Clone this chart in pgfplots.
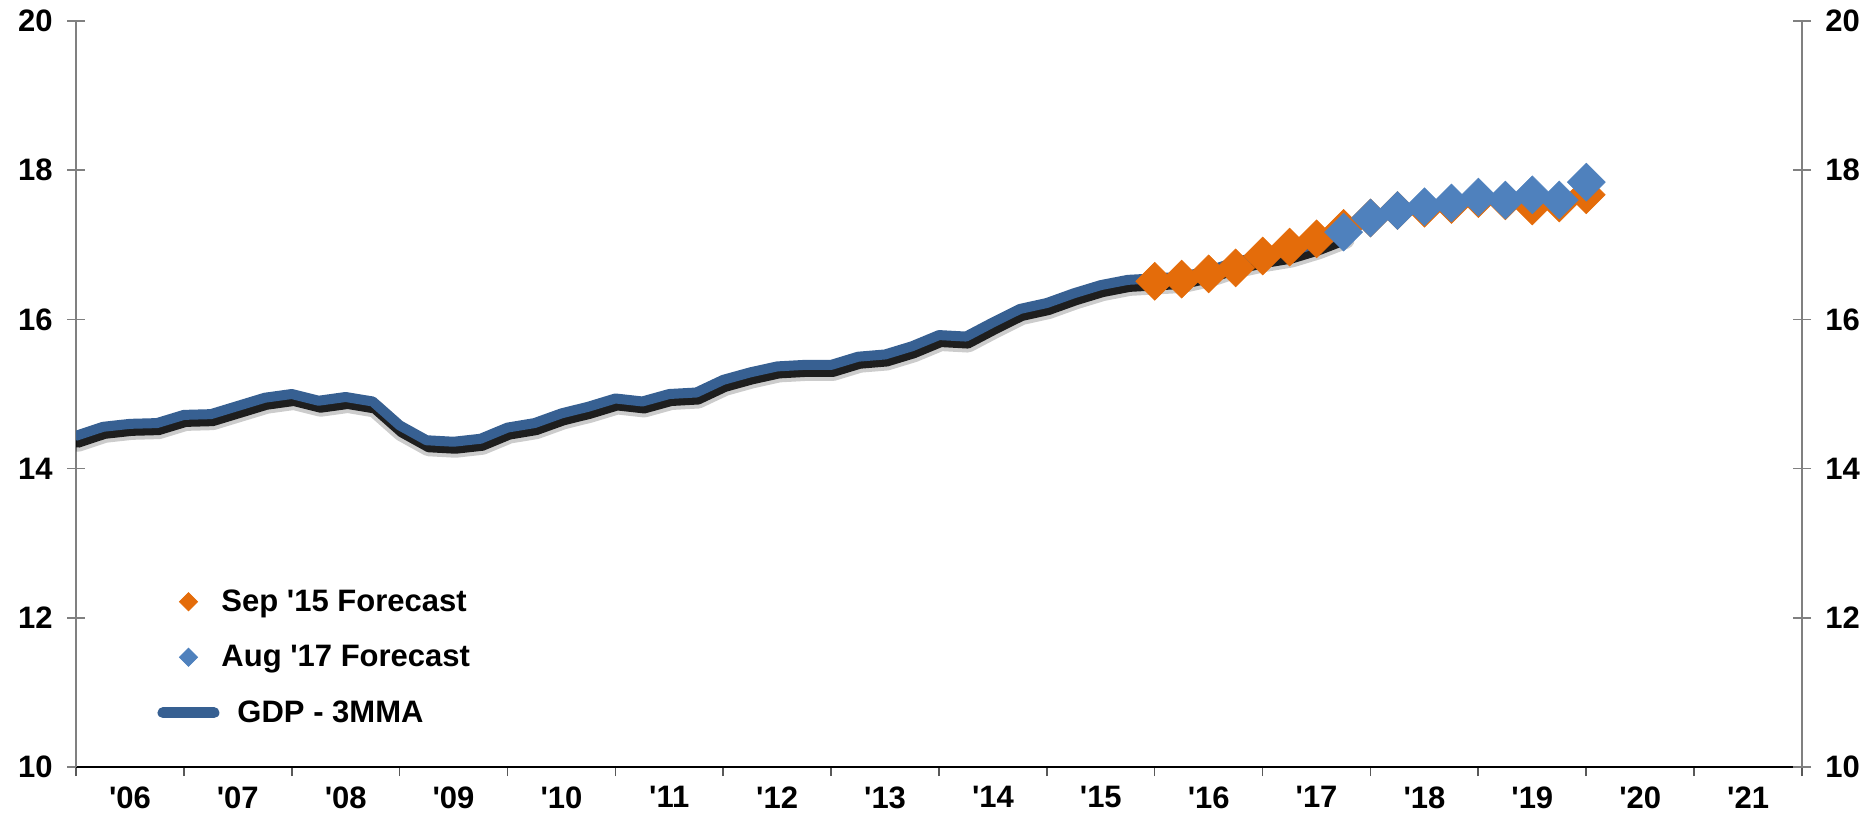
\documentclass[border=0pt]{standalone}
\usepackage{pgfplots}
\pgfplotsset{compat=1.18}
\usepackage{pgfplotstable}
\usepackage{fontspec}
\setmainfont{Liberation Sans}

\definecolor{fcOrange}{HTML}{E46C0A}
\definecolor{fcBlue}{HTML}{4F81BD}
\definecolor{gdpBlue}{HTML}{376092}
\newcommand{\q}{\textquotesingle}
\newcommand{\lbl}{\fontsize{15.5}{18}\selectfont\bfseries}

% GDP - 3MMA, quarterly
\pgfplotstableread{
x       y
2006.00 14.44
2006.25 14.56
2006.50 14.60
2006.75 14.61
2007.00 14.72
2007.25 14.73
2007.50 14.84
2007.75 14.95
2008.00 15.00
2008.25 14.91
2008.50 14.96
2008.75 14.90
2009.00 14.58
2009.25 14.38
2009.50 14.36
2009.75 14.40
2010.00 14.55
2010.25 14.61
2010.50 14.74
2010.75 14.83
2011.00 14.94
2011.25 14.90
2011.50 15.00
2011.75 15.02
2012.00 15.19
2012.25 15.29
2012.50 15.37
2012.75 15.39
2013.00 15.39
2013.25 15.50
2013.50 15.53
2013.75 15.64
2014.00 15.79
2014.25 15.77
2014.50 15.96
2014.75 16.14
2015.00 16.22
2015.25 16.35
2015.50 16.46
2015.75 16.53
2016.00 16.55
2016.25 16.57
2016.50 16.65
2016.75 16.77
2017.00 16.85
2017.25 16.91
2017.50 17.02
2017.75 17.16
}\gdp

% Sep '15 forecast
\pgfplotstableread{
x       y
2016.00 16.51
2016.25 16.54
2016.50 16.61
2016.75 16.69
2017.00 16.85
2017.25 16.97
2017.50 17.08
2017.75 17.22
2018.00 17.36
2018.25 17.46
2018.50 17.49
2018.75 17.54
2019.00 17.62
2019.25 17.59
2019.50 17.52
2019.75 17.56
2020.00 17.67
}\sepfc

% Aug '17 forecast
\pgfplotstableread{
x       y
2017.75 17.17
2018.00 17.36
2018.25 17.46
2018.50 17.51
2018.75 17.56
2019.00 17.64
2019.25 17.60
2019.50 17.67
2019.75 17.60
2020.00 17.84
}\augfc

\begin{document}
\begin{tikzpicture}
\path[use as bounding box] (-38pt,-24.5pt) rectangle (898.5pt,383.5pt);
\begin{axis}[
    scale only axis, width=863pt, height=373pt,
    xmin=2006, xmax=2022, ymin=10, ymax=20,
    axis x line*=bottom, axis y line*=left,
    axis line style={-},
    x axis line style={black, line width=0.9pt},
    y axis line style={gray, line width=0.8pt},
    xtick={2006.5,2007.5,...,2021.5},
    xticklabels={\q06,\q07,\q08,\q09,\q10,\q11,\q12,\q13,\q14,\q15,\q16,\q17,\q18,\q19,\q20,\q21},
    minor xtick={2006,...,2022},
    xtick align=outside,
    xtick style={/pgfplots/major tick length=5pt},
    major x tick style={draw=none},
    minor x tick style={gray!70!black, line width=0.8pt},
    minor tick length=4.5pt,
    xticklabel style={yshift=-2pt},
    ytick={10,12,...,20},
    ytick align=center,
    ytick style={gray, line width=0.8pt, /pgfplots/major tick length=9pt},
    yticklabel style={xshift=-6pt},
    ticklabel style={font=\lbl},
    /pgf/number format/assume math mode=true,
    legend style={draw=none, fill=none, font=\lbl,
        at={(0.0435,0.2466)}, anchor=north west,
        row sep=13.5pt, nodes={inner sep=1pt}},
    legend cell align=left,
    /tikz/every even column/.append style={column sep=0pt},
]
\addplot[only marks, mark=square*, mark size=6.7pt,
    mark options={rotate=45, fill=fcOrange, draw=fcOrange, line width=0.3pt},
    legend image code/.code={\fill[fcOrange, shift={(12.75pt,0pt)}, rotate=45] (-3.2pt,-3.2pt) rectangle (3.2pt,3.2pt);}]
    table[x=x, y=y] {\sepfc};
\addlegendentry{Sep \q15 Forecast}
\addplot[only marks, mark=square*, mark size=6.7pt,
    mark options={rotate=45, fill=fcBlue, draw=fcBlue, line width=0.3pt},
    legend image code/.code={\fill[fcBlue, shift={(12.75pt,0pt)}, rotate=45] (-3.2pt,-3.2pt) rectangle (3.2pt,3.2pt);}]
    table[x=x, y=y] {\augfc};
\addlegendentry{Aug \q17 Forecast}
% soft drop shadow under the GDP line
\addplot[forget plot, black, opacity=0.2, line width=9pt, line join=round, line cap=round,
    xshift=1pt, yshift=-3.5pt] table[x=x, y=y] {\gdp};
\addplot[forget plot, black, opacity=0.85, line width=5pt, line join=round, line cap=round,
    xshift=1pt, yshift=-3.5pt] table[x=x, y=y] {\gdp};
\addplot[gdpBlue, line width=5pt, line join=round, line cap=round,
    legend image code/.code={\draw[gdpBlue, line width=5.5pt, line cap=round] (0pt,0pt) -- (25.5pt,0pt);}]
    table[x=x, y=y] {\gdp};
\addlegendentry{\hspace{8pt}GDP - 3MMA}
\end{axis}
\begin{axis}[
    scale only axis, width=863pt, height=373pt,
    xmin=2006, xmax=2022, ymin=10, ymax=20,
    axis y line*=right, axis x line=none,
    axis line style={-},
    y axis line style={gray, line width=0.8pt},
    ytick={10,12,...,20},
    ytick align=center,
    ytick style={gray, line width=0.8pt, /pgfplots/major tick length=9pt},
    yticklabel style={xshift=6pt},
    ticklabel style={font=\lbl},
    /pgf/number format/assume math mode=true,
]
\end{axis}
\end{tikzpicture}
\end{document}
